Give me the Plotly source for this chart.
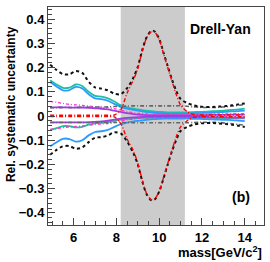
import plotly.graph_objects as go

mass = [4.9, 5.2, 5.5, 5.8, 6.1, 6.4, 6.7, 7.0, 7.3, 7.6, 7.9, 8.2, 8.5, 8.8, 9.0, 9.2, 9.4, 9.6, 9.7, 9.8,
        10.0, 10.2, 10.4, 10.6, 10.8, 11.0, 11.3, 11.6, 11.9, 12.2, 12.5, 12.8, 13.1, 13.4, 13.7, 14.0]

total_up = [0.212, 0.19, 0.173, 0.172, 0.186, 0.178, 0.142, 0.118, 0.113, 0.106, 0.092, 0.09, 0.115, 0.16, 0.203, 0.27,
            0.323, 0.349, 0.352, 0.348, 0.318, 0.262, 0.205, 0.15, 0.103, 0.07, 0.054, 0.044, 0.039, 0.037,
            0.037, 0.039, 0.041, 0.044, 0.048, 0.052]
total_dn = [-0.16, -0.14, -0.125, -0.124, -0.135, -0.13, -0.108, -0.09, -0.087, -0.08, -0.067, -0.072, -0.105, -0.155,
            -0.2, -0.267, -0.321, -0.346, -0.348, -0.344, -0.312, -0.258, -0.2, -0.145, -0.098, -0.062, -0.045,
            -0.036, -0.031, -0.029, -0.029, -0.031, -0.033, -0.036, -0.04, -0.045]
peak_up = [0.003, 0.003, 0.003, 0.003, 0.003, 0.003, 0.003, 0.003, 0.003, 0.003, 0.004, 0.025, 0.095, 0.15, 0.197,
           0.265, 0.32, 0.346, 0.35, 0.346, 0.315, 0.258, 0.2, 0.143, 0.088, 0.045, 0.018, 0.006, 0.004, 0.004,
           0.004, 0.004, 0.004, 0.004, 0.004, 0.004]
peak_dn = [-0.002, -0.002, -0.002, -0.002, -0.002, -0.002, -0.002, -0.002, -0.002, -0.002, -0.004, -0.03, -0.095,
           -0.145, -0.195, -0.262, -0.318, -0.344, -0.346, -0.342, -0.31, -0.255, -0.196, -0.14, -0.085, -0.045,
           -0.02, -0.006, -0.003, -0.003, -0.003, -0.003, -0.003, -0.003, -0.003, -0.003]
teal_up = [0.148, 0.13, 0.116, 0.117, 0.13, 0.124, 0.1, 0.083, 0.08, 0.073, 0.06, 0.045, 0.036, 0.03, 0.027, 0.024,
           0.022, 0.02, 0.019, 0.018, 0.017, 0.016, 0.015, 0.015, 0.015, 0.015, 0.015, 0.016, 0.017, 0.018, 0.02,
           0.021, 0.023, 0.025, 0.027, 0.03]
teal_dn = [-0.058, -0.05, -0.042, -0.042, -0.047, -0.045, -0.036, -0.03, -0.028, -0.025, -0.02, -0.015, -0.012, -0.01,
           -0.009, -0.008, -0.008, -0.008, -0.008, -0.008, -0.008, -0.008, -0.008, -0.008, -0.008, -0.008, -0.008,
           -0.008, -0.008, -0.008, -0.008, -0.009, -0.009, -0.009, -0.01, -0.01]
blue_up = [0.14, 0.122, 0.106, 0.107, 0.12, 0.114, 0.09, 0.073, 0.07, 0.063, 0.05, 0.038, 0.03, 0.025, 0.022, 0.019,
           0.017, 0.015, 0.014, 0.013, 0.012, 0.011, 0.01, 0.01, 0.01, 0.01, 0.01, 0.011, 0.012, 0.013, 0.014, 0.016,
           0.017, 0.019, 0.02, 0.022]
blue_dn = [-0.125, -0.108, -0.094, -0.095, -0.106, -0.1, -0.08, -0.066, -0.063, -0.057, -0.045, -0.034, -0.027, -0.022,
           -0.02, -0.018, -0.016, -0.014, -0.013, -0.013, -0.012, -0.011, -0.011, -0.011, -0.011, -0.011, -0.011,
           -0.012, -0.012, -0.013, -0.014, -0.015, -0.016, -0.017, -0.019, -0.021]
pink_up = [0.06, 0.057, 0.052, 0.048, 0.046, 0.044, 0.041, 0.038, 0.036, 0.034, 0.03, 0.024, 0.018, 0.013, 0.011,
           0.01, 0.009, 0.008, 0.008, 0.008, 0.008, 0.008, 0.008, 0.008, 0.008, 0.008, 0.008, 0.008, 0.008, 0.008,
           0.008, 0.009, 0.009, 0.009, 0.01, 0.01]
pink_dn = [-0.055, -0.052, -0.048, -0.045, -0.043, -0.041, -0.038, -0.035, -0.033, -0.031, -0.027, -0.021, -0.016,
           -0.012, -0.01, -0.009, -0.008, -0.007, -0.007, -0.007, -0.007, -0.007, -0.007, -0.007, -0.007, -0.007,
           -0.007, -0.007, -0.007, -0.007, -0.008, -0.008, -0.008, -0.009, -0.009, -0.009]
purple_up = [0.036, 0.036, 0.036, 0.035, 0.035, 0.035, 0.034, 0.032, 0.03, 0.027, 0.022, 0.017, 0.012, 0.008, 0.006,
             0.005, 0.004, 0.004, 0.004, 0.004, 0.004, 0.004, 0.004, 0.004, 0.004, 0.004, 0.004, 0.004, 0.004, 0.004,
             0.005, 0.005, 0.005, 0.006, 0.006, 0.006]
purple_dn = [-0.026, -0.026, -0.026, -0.026, -0.026, -0.026, -0.026, -0.024, -0.022, -0.019, -0.015, -0.011, -0.008,
             -0.006, -0.005, -0.004, -0.004, -0.004, -0.004, -0.004, -0.004, -0.004, -0.004, -0.004, -0.004, -0.004,
             -0.004, -0.004, -0.004, -0.004, -0.005, -0.005, -0.005, -0.006, -0.006, -0.006]
gray_up = [0.034, 0.034, 0.035, 0.035, 0.035, 0.036, 0.036, 0.037, 0.037, 0.038, 0.039, 0.04, 0.041, 0.042, 0.042,
           0.042, 0.042, 0.042, 0.042, 0.042, 0.042, 0.042, 0.042, 0.042, 0.042, 0.042, 0.04, 0.038, 0.036, 0.035,
           0.035, 0.036, 0.038, 0.041, 0.044, 0.047]
gray_dn = [-0.027, -0.027, -0.027, -0.027, -0.027, -0.027, -0.027, -0.027, -0.027, -0.027, -0.027, -0.027, -0.027,
           -0.028, -0.028, -0.028, -0.028, -0.028, -0.028, -0.028, -0.028, -0.028, -0.028, -0.028, -0.028, -0.028,
           -0.028, -0.027, -0.026, -0.026, -0.026, -0.027, -0.029, -0.032, -0.035, -0.038]

band_lo, band_hi = 8.2, 11.2
x_ticks = [6, 8, 10, 12, 14]
y_ticks = [-0.4, -0.3, -0.2, -0.1, 0, 0.1, 0.2, 0.3, 0.4]

FONT = "Liberation Sans, Arial, sans-serif"

series = [
    (teal_up, "#1fbf9f", "solid", 1.8),
    (teal_dn, "#1fbf9f", "solid", 1.8),
    (blue_up, "#2a9bff", "solid", 1.8),
    (blue_dn, "#2a9bff", "solid", 1.8),
    (purple_up, "#9a3fe0", "solid", 1.8),
    (purple_dn, "#9a3fe0", "solid", 1.8),
    (pink_up, "#ff33cc", "3px,2px,1px,2px", 1.3),
    (pink_dn, "#ff33cc", "3px,2px,1px,2px", 1.3),
    (gray_up, "#666666", "4px,2px,1px,2px", 1.6),
    (gray_dn, "#666666", "4px,2px,1px,2px", 1.6),
    (total_up, "#111111", "dot", 2),
    (total_dn, "#111111", "dot", 2),
    (peak_up, "#ff0000", "4px,2px,1px,2px", 1.4),
    (peak_dn, "#ff0000", "4px,2px,1px,2px", 1.4),
]

fig = go.Figure()
for ys, col, dash, w in series:
    fig.add_trace(go.Scatter(x=mass, y=ys, mode="lines",
                             line=dict(color=col, dash=dash, width=w, shape="spline", smoothing=0.8),
                             showlegend=False, hoverinfo="skip"))

fig.add_shape(type="rect", xref="x", yref="paper", x0=band_lo, x1=band_hi, y0=0, y1=1,
              fillcolor="#cccccc", line=dict(width=0), layer="below")

axis_common = dict(showgrid=False, zeroline=False, showline=True, linecolor="#444444", linewidth=1,
                   mirror=True, ticks="inside", ticklen=7, tickcolor="#444444",
                   tickfont=dict(family=FONT, size=13, color="black", weight="bold"))

fig.update_xaxes(range=[4.8, 14.9], tickvals=x_ticks, ticktext=[str(v) for v in x_ticks],
                 minor=dict(dtick=0.5, ticks="inside", ticklen=4, tickcolor="#444444"),
                 **axis_common)
fig.update_yaxes(range=[-0.45, 0.45], tickvals=y_ticks,
                 ticktext=[("\u2212" + str(abs(v))) if v < 0 else str(v) for v in y_ticks],
                 minor=dict(dtick=0.02, ticks="inside", ticklen=4, tickcolor="#444444"),
                 **axis_common)

fig.add_annotation(text="Rel. systematic uncertainty", xref="paper", yref="paper", x=-0.171, y=0.555,
                   textangle=-90, showarrow=False, xanchor="center", yanchor="middle",
                   font=dict(family=FONT, size=12, color="black", weight="bold"))
fig.add_annotation(text="mass[GeV/c<sup>2</sup>]", xref="paper", yref="paper", x=1.0, y=-0.125,
                   showarrow=False, xanchor="right", yanchor="middle",
                   font=dict(family=FONT, size=13, color="black", weight="bold"))
fig.add_annotation(text="Drell-Yan", xref="paper", yref="paper", x=0.95, y=0.9,
                   showarrow=False, xanchor="right", yanchor="middle",
                   font=dict(family=FONT, size=14, color="black", weight="bold"))
fig.add_annotation(text="(b)", xref="paper", yref="paper", x=0.945, y=0.13,
                   showarrow=False, xanchor="right", yanchor="middle",
                   font=dict(family=FONT, size=14, color="black", weight="bold"))

fig.update_layout(width=270, height=262, margin=dict(l=48, r=6, t=7, b=37),
                  paper_bgcolor="white", plot_bgcolor="white",
                  font=dict(family=FONT, color="black"))

fig.write_html("out.html", config={"displayModeBar": False},
               post_script="document.body.style.margin='0';document.body.style.padding='0';")
